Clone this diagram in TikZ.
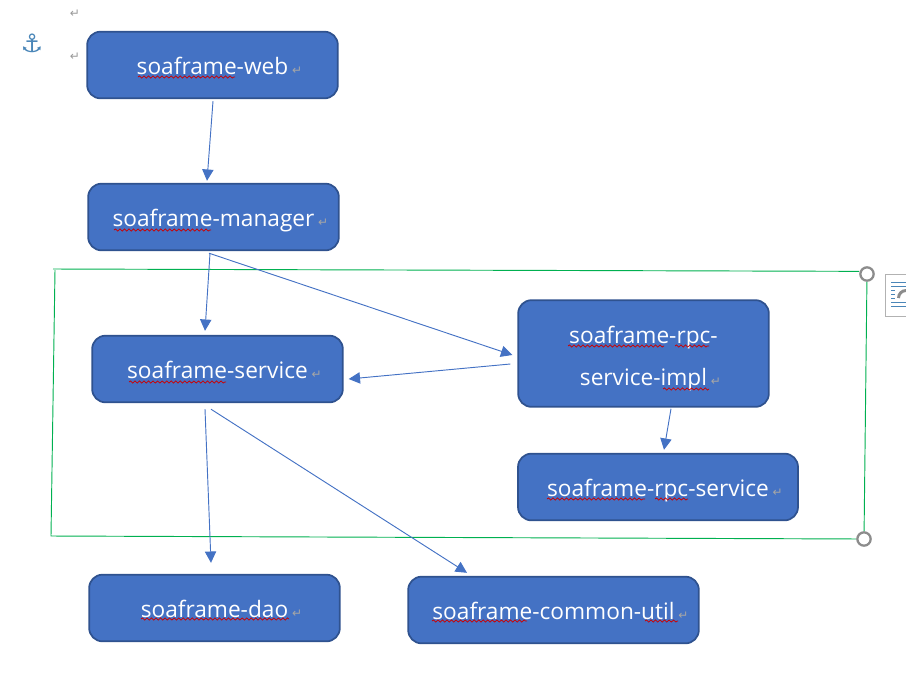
\documentclass[tikz,border=0pt]{standalone}
\usepackage{fontspec}
\setmainfont{Open Sans}
\newfontfamily\symbolfont{DejaVu Sans}
\usetikzlibrary{arrows.meta,decorations.pathmorphing}
\definecolor{boxfill}{HTML}{4472C4}
\definecolor{boxedge}{HTML}{2F528F}
\definecolor{framegreen}{HTML}{00B050}
\definecolor{anchorblue}{HTML}{4A86B8}
\newcommand{\retmark}{\rlap{\,\textcolor{gray!70}{\symbolfont\fontsize{9}{9}\selectfont ↵}}}
\tikzset{
	modbox/.style={draw=boxedge, line width=1.3pt, fill=boxfill, rounded corners=10pt, text=white, minimum height=50pt, text height=16pt, text depth=2.4pt, font=\fontsize{17}{32}\selectfont, inner sep=0pt},
	depline/.style={draw=boxfill, line width=0.7pt, -{Triangle[length=8.5pt,width=8.5pt]}},
	frameline/.style={draw=framegreen, line width=0.7pt},
	handle/.style={circle, draw=gray!90, fill=white, line width=1.7pt, minimum size=10pt, inner sep=0pt},
	squiggle/.style={draw=red!80!black, line width=0.55pt, decorate, decoration={snake, amplitude=0.8pt, segment length=3.4pt}},
	retsign/.style={text=gray!80, font=\symbolfont\fontsize{9}{9}\selectfont, inner sep=0pt}
}
\begin{document}
\begin{tikzpicture}[x=0.75pt, y=-0.75pt]
	\useasboundingbox (0,0) rectangle (906,683);
	\coordinate (frametl) at (53,269);
	\coordinate (framelt) at (55,270);
	\coordinate (framebl) at (51,536);
	\node[handle] (handletr) at (867,274) {};
	\node[handle] (handlebr) at (864,539) {};
	\draw[frameline] (frametl) -- ([yshift=2pt]handletr.west);
	\draw[frameline] (handletr) -- (handlebr);
	\draw[frameline] (handlebr) -- (framebl) -- (framelt);

	\node[modbox, minimum width=188pt] (web) at (212.5,65) {soaframe-web\retmark};
	\node[modbox, minimum width=188pt] (manager) at (213.5,217) {soaframe-manager\retmark};
	\node[modbox, minimum width=188pt] (service) at (217.5,369) {soaframe-service\retmark};
	\node[modbox, minimum width=188pt, minimum height=80pt, align=center, text height=50.4pt, text depth=2pt] (impl) at (643.5,353.5) {soaframe-rpc-\\service-impl\retmark};
	\node[modbox, minimum width=210pt] (rpcservice) at (658,487) {soaframe-rpc-service\retmark};
	\node[modbox, minimum width=188pt] (dao) at (214.5,608) {soaframe-dao\retmark};
	\node[modbox, minimum width=218pt] (util) at (553.5,610) {soaframe-common-util\retmark};

	\draw[depline] ([shift={(0.5,2)}]web.south) -- ([shift={(-6.5,-2)}]manager.north);
	\draw[depline] ([shift={(-3.5,2)}]manager.south) -- ([shift={(-12.5,-4)}]service.north);
	\draw[depline] ([shift={(-4.5,2)}]manager.south) -- ([shift={(-5,1.5)}]impl.west);
	\draw[depline] ([shift={(-7,10.5)}]impl.west) -- ([shift={(5,10)}]service.east);
	\draw[depline] ([shift={(27.5,1)}]impl.south) -- ([shift={(6,-3)}]rpcservice.north);
	\draw[depline] ([shift={(-12.5,6)}]service.south) -- ([shift={(-3.5,-11)}]dao.north);
	\draw[depline] ([shift={(-6.5,6)}]service.south) -- ([shift={(-86.5,-3)}]util.north);

	\foreach \xa/\xb/\yy in {138/235/77, 114/211/230, 129/226/382, 568/664/346, 675/709/346, 663/709/389, 547/645/499, 655/688/499, 141/289/619, 432/527/621, 645/678/621}
		\draw[squiggle] (\xa,\yy) -- (\xb,\yy);

	\node[text=anchorblue, font=\symbolfont\bfseries\fontsize{19}{19}\selectfont, inner sep=0pt] (anchormark) at (32,43) {⚓};
	\node[retsign] (retone) at (75,14) {↵};
	\node[retsign] (rettwo) at (75,57) {↵};

	\draw[draw=gray!60, line width=0.7pt] (906,274.5) -- (885.5,274.5) -- (885.5,316) -- (906,316);
	\foreach \yy in {282.3,286,302,306.7}
		\draw[anchorblue, line width=0.7pt] (891,\yy) -- (906,\yy);
	\foreach \yy in {290,294,298}
		\draw[anchorblue, line width=0.7pt] (891,\yy) -- (895,\yy);
	\draw[gray!90, line width=2.2pt] (898.5,298) arc[start angle=180, end angle=270, radius=7.5];
\end{tikzpicture}
\end{document}
